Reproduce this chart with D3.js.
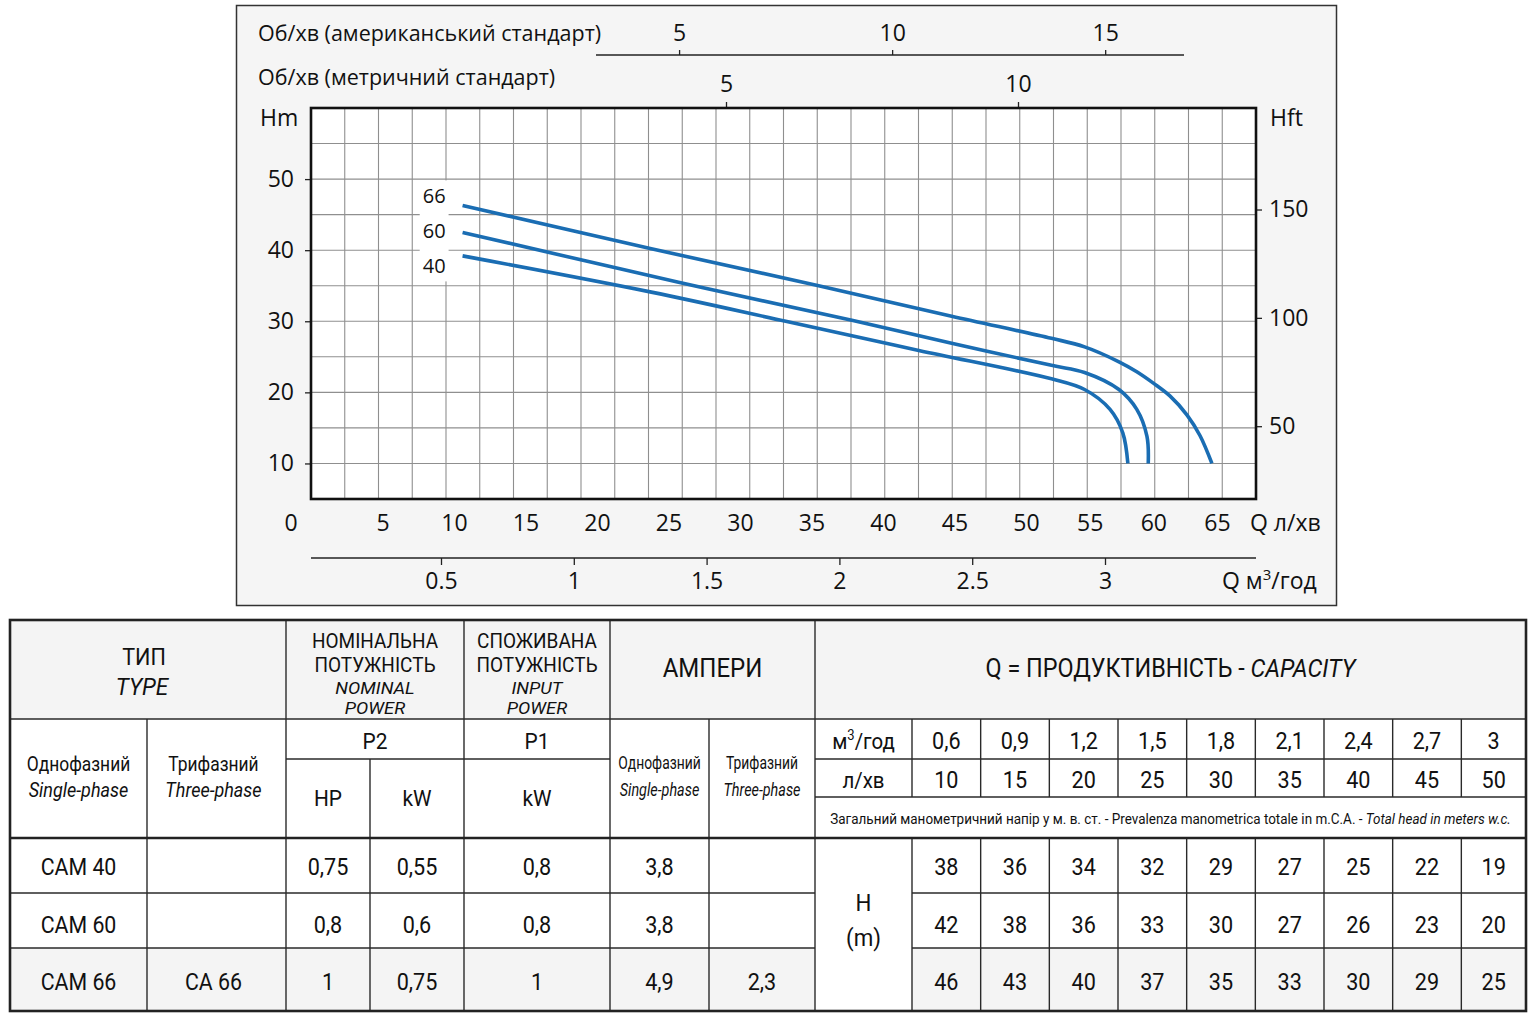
<!DOCTYPE html>
<html>
<head>
<meta charset="utf-8">
<script src="https://cdn.jsdelivr.net/npm/d3@7/dist/d3.min.js"></script>
<style>
  body { margin: 0; background: #fff; }
  svg { display: block; font-family: "Open Sans", "Noto Sans", sans-serif; }
</style>
</head>
<body>
<svg id="chart" width="1534" height="1015"></svg>
<script>
// curves: [Q л/хв, H m]
const curve66 = [[10.6,46.3],[23.8,40.2],[35.5,35.0],[44.8,30.7],[52.0,27.6],[54.6,26.4],[57.3,24.3],[58.7,22.9],[60.0,21.3],[61.3,19.5],[62.65,16.8],[63.67,13.9],[64.6,10]];
const curve60 = [[10.6,42.5],[25.7,35.5],[37.9,30.1],[44.8,26.9],[52.0,23.8],[54.6,22.8],[57.3,20.4],[58.7,17.6],[59.5,13.8],[59.6,10]];
const curve40 = [[10.6,39.2],[23.8,34.1],[33.2,30.0],[42.5,25.9],[52.0,21.9],[54.6,20.4],[56.6,17.6],[57.6,14.3],[58.0,10]];
const curveNames = ["66", "60", "40"];

const qTicks = [5,10,15,20,25,30,35,40,45,50,55,60,65];
const m3Ticks = [0.5,1,1.5,2,2.5,3];
const usTicks = [5,10,15];
const metricTicks = [5,10];
const hmTicks = [10,20,30,40,50];
const hftTicks = [50,100,150];

// table
const types1 = ["CAM 40","CAM 60","CAM 66"];
const types3 = ["","","CA 66"];
const p2hp = ["0,75","0,8","1"];
const p2kw = ["0,55","0,6","0,75"];
const p1kw = ["0,8","0,8","1"];
const amp1 = ["3,8","3,8","4,9"];
const amp3 = ["","","2,3"];
const qM3 = ["0,6","0,9","1,2","1,5","1,8","2,1","2,4","2,7","3"];
const qLmin = ["10","15","20","25","30","35","40","45","50"];
const head40 = [38,36,34,32,29,27,25,22,19];
const head60 = [42,38,36,33,30,27,26,23,20];
const head66 = [46,43,40,37,35,33,30,29,25];

const svg = d3.select("#chart");
const plot = {left: 311, right: 1256, top: 108, bottom: 499};

const y = d3.scaleLinear().domain([5, 60]).range([plot.bottom, plot.top]);
const yft = d3.scaleLinear().domain([5 / 0.3048, 60 / 0.3048]).range([plot.bottom, plot.top]);
// bottom labels are squeezed after 50 in the original
const x = d3.scaleLinear().domain([0, 50, 65]).range([plot.left, plot.left + 715, plot.left + 906]);
const xm3 = d3.scaleLinear().domain([0.5, 3]).range([plot.left + 130, plot.left + 794]);
const xus = d3.scaleLinear().domain([3.05, 16.85]).range([596, 1184]);
const xmet = d3.scaleLinear().domain([5, 10]).range([726, 1018]);
const gridX = d3.scaleLinear().domain([0, 28]).range([plot.left, plot.right]);

// panel
svg.append("rect").attr("x", 236.5).attr("y", 5.5).attr("width", 1100).attr("height", 600)
  .attr("fill", "#f5f5f5").attr("stroke", "#333").attr("stroke-width", 1.5);
svg.append("rect").attr("x", plot.left).attr("y", plot.top)
  .attr("width", plot.right - plot.left).attr("height", plot.bottom - plot.top).attr("fill", "#fff");

// grid
const grid = svg.append("g").attr("stroke", "#8f8f8f").attr("stroke-width", 1.1);
grid.selectAll(".gx").data(d3.range(1, 28)).enter().append("line")
  .attr("x1", d => gridX(d)).attr("x2", d => gridX(d))
  .attr("y1", plot.top).attr("y2", plot.bottom);
grid.selectAll(".gy").data(d3.range(10, 60, 5)).enter().append("line")
  .attr("x1", plot.left).attr("x2", plot.right)
  .attr("y1", d => y(d)).attr("y2", d => y(d));

function styleAxis(g, size) {
  g.selectAll("text").attr("font-size", size).attr("fill", "#111")
    .attr("font-family", "'Open Sans', sans-serif");
  g.selectAll("line").attr("stroke", "#222").attr("stroke-width", 1.3);
  g.select(".domain").remove();
}
const plain = d3.format("");

// left Hm
svg.append("g").attr("transform", `translate(${plot.left},0)`)
  .call(d3.axisLeft(y).tickValues(hmTicks).tickSize(6).tickPadding(11))
  .call(g => styleAxis(g, 23));
// right Hft
svg.append("g").attr("transform", `translate(${plot.right},0)`)
  .call(d3.axisRight(yft).tickValues(hftTicks).tickSize(6).tickPadding(7))
  .call(g => styleAxis(g, 23));
// bottom l/min labels
svg.append("g").attr("transform", `translate(0,${plot.bottom})`)
  .call(d3.axisBottom(x).tickValues(qTicks).tickSize(0).tickPadding(16))
  .call(g => styleAxis(g, 23));
// m3/h
svg.append("line").attr("x1", plot.left).attr("x2", plot.right).attr("y1", 558).attr("y2", 558)
  .attr("stroke", "#222").attr("stroke-width", 1.5);
svg.append("g").attr("transform", "translate(0,558)")
  .call(d3.axisBottom(xm3).tickValues(m3Ticks).tickFormat(plain).tickSize(7).tickPadding(8))
  .call(g => styleAxis(g, 23));
// US gpm
svg.append("g").attr("transform", "translate(0,55)")
  .call(d3.axisTop(xus).tickValues(usTicks).tickFormat(plain).tickSize(5).tickPadding(9))
  .call(g => styleAxis(g, 23));
svg.append("line").attr("x1", xus.range()[0]).attr("x2", xus.range()[1]).attr("y1", 55).attr("y2", 55)
  .attr("stroke", "#222").attr("stroke-width", 1.5);
// metric gpm
svg.append("g").attr("transform", `translate(0,${plot.top})`)
  .call(d3.axisTop(xmet).tickValues(metricTicks).tickFormat(plain).tickSize(6).tickPadding(10))
  .call(g => styleAxis(g, 23));

// axis titles
const titles = svg.append("g").attr("font-size", 21.5).attr("fill", "#111");
titles.append("text").attr("x", 258).attr("y", 41).text("Об/хв (американський стандарт)");
titles.append("text").attr("x", 258).attr("y", 85).text("Об/хв (метричний стандарт)");
titles.append("text").attr("x", 260).attr("y", 126).attr("font-size", 23).text("Hm");
titles.append("text").attr("x", 1270).attr("y", 126).attr("font-size", 23).text("Hft");
titles.append("text").attr("x", 291).attr("y", plot.bottom + 32).attr("font-size", 23)
  .attr("text-anchor", "middle").text("0");
titles.append("text").attr("x", 1250).attr("y", 531).attr("font-size", 23).text("Q л/хв");
const qm = titles.append("text").attr("x", 1222).attr("y", 589).attr("font-size", 23);
qm.append("tspan").text("Q м");
qm.append("tspan").attr("font-size", 15).attr("dy", -9).text("3");
qm.append("tspan").attr("dy", 9).text("/год");

// curves
const line = d3.line().x(d => x(d[0])).y(d => y(d[1])).curve(d3.curveCatmullRom.alpha(0.5));
const curves = [curve66, curve60, curve40];
svg.append("g").selectAll("path").data(curves).enter().append("path")
  .attr("d", line).attr("fill", "none").attr("stroke", "#1a6db3")
  .attr("stroke-width", 3.6).attr("stroke-linecap", "butt");

const labG = svg.append("g");
const labBg = labG.append("rect").attr("fill", "#fff");
labG.selectAll("text").data(curveNames).enter().append("text")
  .attr("x", x(curve66[0][0]) - 17)
  .attr("y", (d, i) => y(curve66[0][1]) - 2 + i * 35)
  .attr("text-anchor", "end").attr("font-size", 20).attr("fill", "#111")
  .text(d => d);
let bb = labG.node().getBBox();
labBg.attr("x", bb.x - 3).attr("y", bb.y - 2).attr("width", bb.width + 6).attr("height", bb.height + 4);

// plot frame
svg.append("rect").attr("x", plot.left).attr("y", plot.top)
  .attr("width", plot.right - plot.left).attr("height", plot.bottom - plot.top)
  .attr("fill", "none").attr("stroke", "#111").attr("stroke-width", 2.6);

// ---------------- table ----------------
const T = {left: 10, right: 1526, top: 620, r1: 719, r2: 759, r3: 797, r4: 838, r5: 893, r6: 948, bottom: 1011};
const col = {a: 147, b: 286, c: 370, d: 464, e: 610, f: 709, g: 815, h: 912};
const band = d3.scaleBand().domain(d3.range(9)).range([col.h, 1530]);
const rowY = d3.scaleBand().domain(d3.range(3)).range([T.r4, T.bottom]);

const tb = svg.append("g").attr("font-family", "Roboto, 'Open Sans', sans-serif");
tb.append("rect").attr("x", T.left).attr("y", T.top).attr("width", T.right - T.left).attr("height", T.r1 - T.top).attr("fill", "#f4f4f4");
tb.append("rect").attr("x", T.left).attr("y", T.r6).attr("width", col.g - T.left).attr("height", T.bottom - T.r6).attr("fill", "#f4f4f4");
tb.append("rect").attr("x", col.h).attr("y", T.r6).attr("width", T.right - col.h).attr("height", T.bottom - T.r6).attr("fill", "#f4f4f4");

const lines = [
  [col.b, T.top, col.b, T.bottom], [col.d, T.top, col.d, T.bottom], [col.e, T.top, col.e, T.bottom], [col.g, T.top, col.g, T.bottom],
  [col.a, T.r1, col.a, T.bottom], [col.c, T.r2, col.c, T.bottom], [col.f, T.r1, col.f, T.bottom],
  [T.left, T.r1, T.right, T.r1], [col.b, T.r2, col.e, T.r2], [col.g, T.r2, T.right, T.r2], [col.g, T.r3, T.right, T.r3],
  [T.left, T.r5, col.g, T.r5], [col.h, T.r5, T.right, T.r5], [T.left, T.r6, col.g, T.r6], [col.h, T.r6, T.right, T.r6]
];
band.domain().forEach(i => {
  const xx = band(i);
  lines.push([xx, T.r1, xx, T.r3], [xx, T.r4, xx, T.bottom]);
});
tb.selectAll(".tl").data(lines).enter().append("line")
  .attr("x1", d => d[0]).attr("y1", d => d[1]).attr("x2", d => d[2]).attr("y2", d => d[3])
  .attr("stroke", "#2a2a2a").attr("stroke-width", 1.4);
tb.append("line").attr("x1", T.left).attr("x2", T.right).attr("y1", T.r4).attr("y2", T.r4)
  .attr("stroke", "#222").attr("stroke-width", 2.4);
tb.append("rect").attr("x", T.left).attr("y", T.top).attr("width", T.right - T.left).attr("height", T.bottom - T.top)
  .attr("fill", "none").attr("stroke", "#222").attr("stroke-width", 2.6);

function cell(cx, by, str, size, italic, sx) {
  const t = tb.append("text")
    .attr("transform", `translate(${cx},${by}) scale(${sx || 0.9},1)`)
    .attr("text-anchor", "middle").attr("font-size", size).attr("fill", "#111")
    .attr("font-style", italic ? "italic" : "normal");
  if (Array.isArray(str)) str.forEach(s => t.append("tspan").attr("font-style", s[1] ? "italic" : "normal").text(s[0]));
  else t.text(str);
  return t;
}
const mid = (a, b) => (a + b) / 2;

cell(mid(T.left, col.b) - 4, 665, "ТИП", 24, false, 0.9);
cell(mid(T.left, col.b) - 6, 695, "TYPE", 24, true, 0.94);
[["НОМІНАЛЬНА","ПОТУЖНІСТЬ","NOMINAL","POWER", mid(col.b, col.d)],
 ["СПОЖИВАНА","ПОТУЖНІСТЬ","INPUT","POWER", mid(col.d, col.e)]].forEach(h => {
  cell(h[4], 648, h[0], 20, false, 0.95); cell(h[4], 672, h[1], 20, false, 0.95);
  cell(h[4], 694, h[2], 17, true, 1.08); cell(h[4], 714, h[3], 17, true, 1.08);
});
cell(mid(col.e, col.g), 677, "АМПЕРИ", 25, false, 0.96);
cell(mid(col.g, T.right), 677, [["Q = ПРОДУКТИВНІСТЬ - ", false], ["CAPACITY", true]], 26, false, 0.9);

cell(mid(T.left, col.a), 771, "Однофазний", 20, false, 0.87); cell(mid(T.left, col.a), 797, "Single-phase", 20, true, 0.9);
cell(mid(col.a, col.b) - 3, 771, "Трифазний", 20, false, 0.87); cell(mid(col.a, col.b) - 3, 797, "Three-phase", 20, true, 0.9);
cell(mid(col.b, col.d), 749, "P2", 22, false, 0.95); cell(mid(col.d, col.e), 749, "P1", 22, false, 0.95);
cell(mid(col.b, col.c), 806, "HP", 22, false, 0.95); cell(mid(col.c, col.d), 806, "kW", 22, false, 0.95); cell(mid(col.d, col.e), 806, "kW", 22, false, 0.95);
cell(mid(col.e, col.f), 769, "Однофазний", 18, false, 0.77); cell(mid(col.e, col.f), 796, "Single-phase", 18, true, 0.8);
cell(mid(col.f, col.g), 769, "Трифазний", 18, false, 0.77); cell(mid(col.f, col.g), 796, "Three-phase", 18, true, 0.8);

const m3 = cell(mid(col.g, col.h), 749, "", 22, false, 0.93);
m3.append("tspan").text("м");
m3.append("tspan").attr("font-size", 14).attr("dy", -9).text("3");
m3.append("tspan").attr("dy", 9).text("/год");
cell(mid(col.g, col.h), 788, "л/хв", 22, false, 0.93);
const bx = i => Math.min(band(i) + band.bandwidth() / 2, mid(band(i), T.right));
qM3.forEach((v, i) => cell(bx(i), 749, v, 24, false, 0.9));
qLmin.forEach((v, i) => cell(bx(i), 788, v, 24, false, 0.9));
cell(mid(col.g, T.right), 824, [["Загальний манометричний напір у м. в. ст. - Prevalenza manometrica totale in m.C.A. - ", false], ["Total head in meters w.c.", true]], 15.5, false, 0.87);

cell(mid(col.g, col.h), 911, "H", 24, false, 0.93);
cell(mid(col.g, col.h), 946, "(m)", 24, false, 0.93);

const heads = [head40, head60, head66];
types1.forEach((t, r) => {
  const by = rowY(r) + rowY.bandwidth() / 2 + 8;
  cell(mid(T.left, col.a), by, t, 24, false, 0.89);
  cell(mid(col.a, col.b) - 3, by, types3[r], 24, false, 0.89);
  cell(mid(col.b, col.c), by, p2hp[r], 24, false, 0.9);
  cell(mid(col.c, col.d), by, p2kw[r], 24, false, 0.9);
  cell(mid(col.d, col.e), by, p1kw[r], 24, false, 0.9);
  cell(mid(col.e, col.f), by, amp1[r], 24, false, 0.9);
  cell(mid(col.f, col.g), by, amp3[r], 24, false, 0.9);
  heads[r].forEach((v, i) => cell(bx(i), by, v, 24, false, 0.9));
});
</script>
</body>
</html>
